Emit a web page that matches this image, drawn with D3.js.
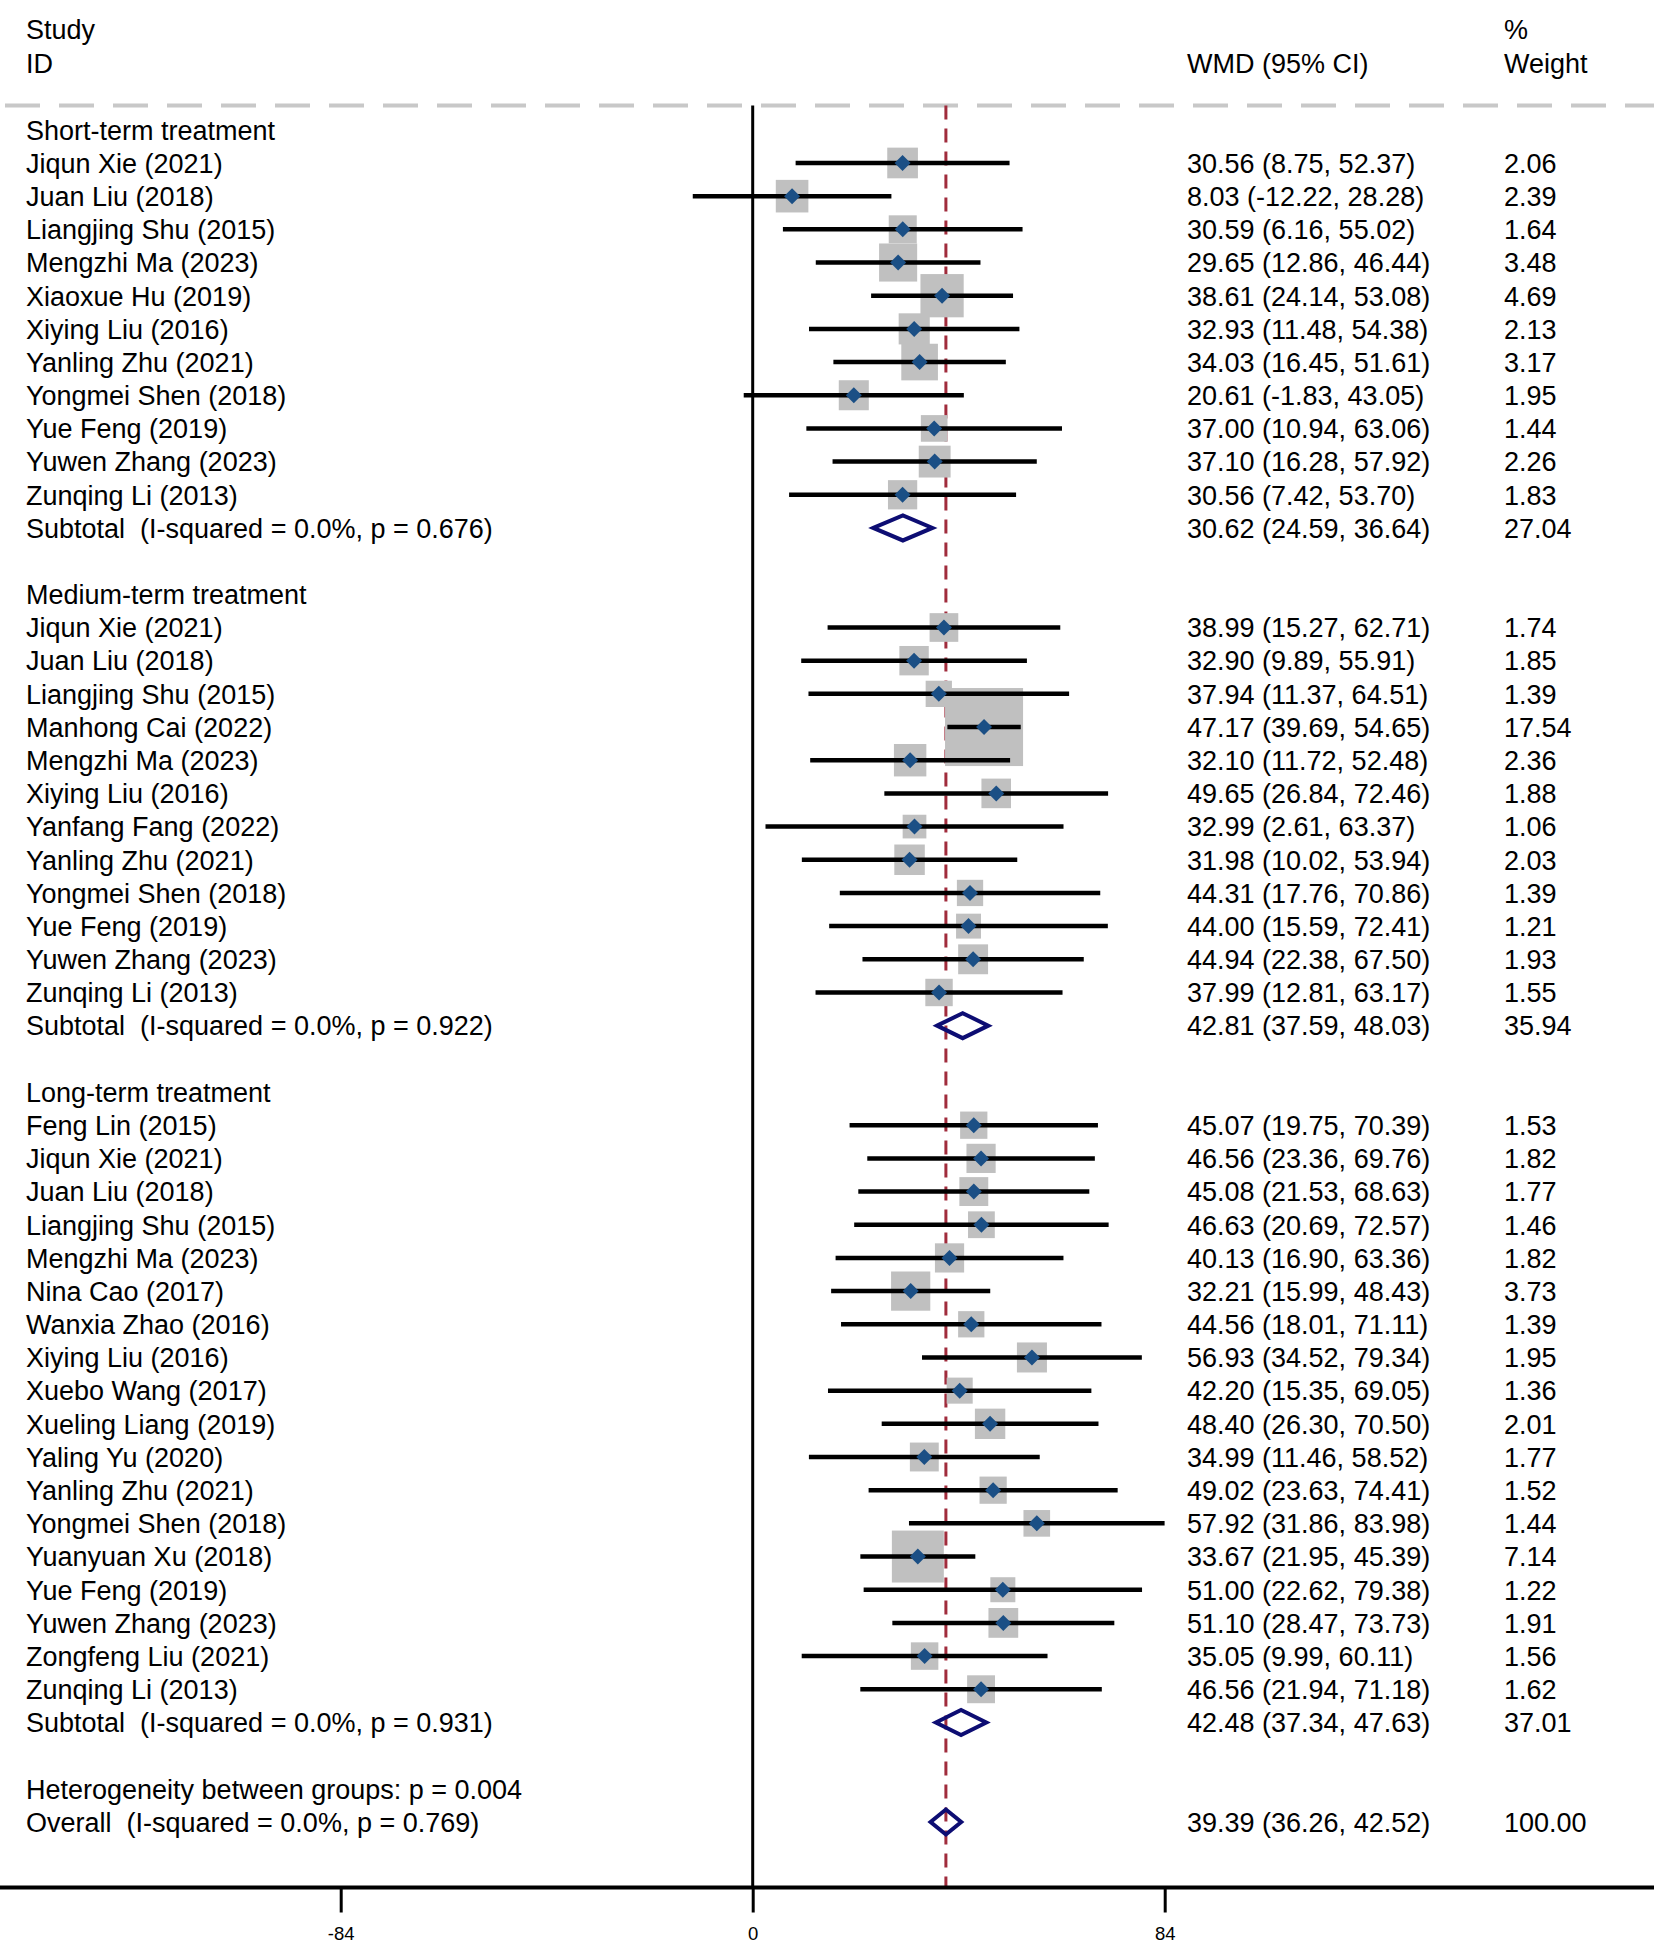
<!DOCTYPE html>
<html lang="en">
<head>
    <meta charset="UTF-8">
    <title>Forest plot - WMD by treatment duration</title>
    <script src="https://d3js.org/d3.v7.min.js"></script>
    <style>
        body {
            margin: 0;
            background: #fff;
        }

        svg text {
            font-family: Arial, "Liberation Sans", sans-serif;
            font-size: 27px;
            fill: #000;
            white-space: pre;
        }

        .tick text {
            font-size: 18.5px;
        }

        .ci {
            stroke: #000;
            stroke-width: 4.5px;
        }

        .box {
            fill: #c0c0c0;
        }

        .point {
            fill: #1b4f85;
        }

        .pooled {
            fill: none;
            stroke: #0d0d73;
            stroke-width: 4px;
            stroke-linejoin: miter;
        }
    </style>
</head>
<body>

<div id="chart"></div>

<script>
    // group labels and summary lines
    const groupTitles = ["Short-term treatment", "Medium-term treatment", "Long-term treatment"];
    const subtotalHet = ["0.676", "0.922", "0.931"];

    // short-term studies
    const shortNames = ["Jiqun Xie (2021)", "Juan Liu (2018)", "Liangjing Shu (2015)", "Mengzhi Ma (2023)",
        "Xiaoxue Hu (2019)", "Xiying Liu (2016)", "Yanling Zhu (2021)", "Yongmei Shen (2018)",
        "Yue Feng (2019)", "Yuwen Zhang (2023)", "Zunqing Li (2013)"];
    const shortEst = [30.56, 8.03, 30.59, 29.65, 38.61, 32.93, 34.03, 20.61, 37.00, 37.10, 30.56];
    const shortLo = [8.75, -12.22, 6.16, 12.86, 24.14, 11.48, 16.45, -1.83, 10.94, 16.28, 7.42];
    const shortHi = [52.37, 28.28, 55.02, 46.44, 53.08, 54.38, 51.61, 43.05, 63.06, 57.92, 53.70];
    const shortWt = [2.06, 2.39, 1.64, 3.48, 4.69, 2.13, 3.17, 1.95, 1.44, 2.26, 1.83];

    // medium-term studies
    const mediumNames = ["Jiqun Xie (2021)", "Juan Liu (2018)", "Liangjing Shu (2015)", "Manhong Cai (2022)",
        "Mengzhi Ma (2023)", "Xiying Liu (2016)", "Yanfang Fang (2022)", "Yanling Zhu (2021)",
        "Yongmei Shen (2018)", "Yue Feng (2019)", "Yuwen Zhang (2023)", "Zunqing Li (2013)"];
    const mediumEst = [38.99, 32.90, 37.94, 47.17, 32.10, 49.65, 32.99, 31.98, 44.31, 44.00, 44.94, 37.99];
    const mediumLo = [15.27, 9.89, 11.37, 39.69, 11.72, 26.84, 2.61, 10.02, 17.76, 15.59, 22.38, 12.81];
    const mediumHi = [62.71, 55.91, 64.51, 54.65, 52.48, 72.46, 63.37, 53.94, 70.86, 72.41, 67.50, 63.17];
    const mediumWt = [1.74, 1.85, 1.39, 17.54, 2.36, 1.88, 1.06, 2.03, 1.39, 1.21, 1.93, 1.55];

    // long-term studies
    const longNames = ["Feng Lin (2015)", "Jiqun Xie (2021)", "Juan Liu (2018)", "Liangjing Shu (2015)",
        "Mengzhi Ma (2023)", "Nina Cao (2017)", "Wanxia Zhao (2016)", "Xiying Liu (2016)",
        "Xuebo Wang (2017)", "Xueling Liang (2019)", "Yaling Yu (2020)", "Yanling Zhu (2021)",
        "Yongmei Shen (2018)", "Yuanyuan Xu (2018)", "Yue Feng (2019)", "Yuwen Zhang (2023)",
        "Zongfeng Liu (2021)", "Zunqing Li (2013)"];
    const longEst = [45.07, 46.56, 45.08, 46.63, 40.13, 32.21, 44.56, 56.93, 42.20, 48.40, 34.99, 49.02,
        57.92, 33.67, 51.00, 51.10, 35.05, 46.56];
    const longLo = [19.75, 23.36, 21.53, 20.69, 16.90, 15.99, 18.01, 34.52, 15.35, 26.30, 11.46, 23.63,
        31.86, 21.95, 22.62, 28.47, 9.99, 21.94];
    const longHi = [70.39, 69.76, 68.63, 72.57, 63.36, 48.43, 71.11, 79.34, 69.05, 70.50, 58.52, 74.41,
        83.98, 45.39, 79.38, 73.73, 60.11, 71.18];
    const longWt = [1.53, 1.82, 1.77, 1.46, 1.82, 3.73, 1.39, 1.95, 1.36, 2.01, 1.77, 1.52,
        1.44, 7.14, 1.22, 1.91, 1.56, 1.62];

    // pooled estimates
    const subEst = [30.62, 42.81, 42.48];
    const subLo = [24.59, 37.59, 37.34];
    const subHi = [36.64, 48.03, 47.63];
    const subWt = [27.04, 35.94, 37.01];

    const overall = {est: 39.39, lo: 36.26, hi: 42.52, wt: 100.00, het: "0.769"};
    const betweenP = "0.004";

    const xTicks = [-84, 0, 84];

    const width = 1654;
    const height = 1945;

    // plain hyphen for negatives, as in the original table
    const fmt = v => v.toFixed(2);

    // build the row list
    const groups = [
        {names: shortNames, est: shortEst, lo: shortLo, hi: shortHi, wt: shortWt},
        {names: mediumNames, est: mediumEst, lo: mediumLo, hi: mediumHi, wt: mediumWt},
        {names: longNames, est: longEst, lo: longLo, hi: longHi, wt: longWt}
    ];

    const rows = [];
    let r = 0;
    groups.forEach((g, gi) => {
        rows.push({row: r++, type: "title", label: groupTitles[gi]});
        g.names.forEach((n, i) => {
            rows.push({row: r++, type: "study", label: n, est: g.est[i], lo: g.lo[i], hi: g.hi[i], wt: g.wt[i]});
        });
        rows.push({row: r++, type: "pooled",
            label: `Subtotal  (I-squared = 0.0%, p = ${subtotalHet[gi]})`,
            est: subEst[gi], lo: subLo[gi], hi: subHi[gi], wt: subWt[gi]});
        r++; // blank line
    });
    rows.push({row: r++, type: "title", label: `Heterogeneity between groups: p = ${betweenP}`});
    rows.push({row: r, type: "pooled", label: `Overall  (I-squared = 0.0%, p = ${overall.het})`,
        est: overall.est, lo: overall.lo, hi: overall.hi, wt: overall.wt});
    const lastRow = r;

    const x = d3.scaleLinear().domain([-84, 84]).range([340.7, 1164.7]);
    const y = d3.scaleLinear().domain([0, lastRow]).range([129.8, 129.8 + 33.18 * lastRow]);

    const lineTop = 105.5;
    const axisY = 1887.5;

    const svg = d3.select("#chart").append("svg")
        .attr("width", width)
        .attr("height", height);

    // header
    const header = svg.append("g");
    header.append("text").attr("x", 26).attr("y", 39).text("Study");
    header.append("text").attr("x", 26).attr("y", 73).text("ID");
    header.append("text").attr("x", 1187).attr("y", 73).text("WMD (95% CI)");
    header.append("text").attr("x", 1504).attr("y", 39).text("%");
    header.append("text").attr("x", 1504).attr("y", 73).text("Weight");

    svg.append("line")
        .attr("x1", 5).attr("x2", width)
        .attr("y1", lineTop).attr("y2", lineTop)
        .attr("stroke", "#c8c8c8")
        .attr("stroke-width", 4)
        .attr("stroke-dasharray", "35 19");

    // no-effect line
    svg.append("line")
        .attr("x1", x(0)).attr("x2", x(0))
        .attr("y1", lineTop).attr("y2", axisY)
        .attr("stroke", "#000")
        .attr("stroke-width", 3);

    // overall effect line
    svg.append("line")
        .attr("x1", x(overall.est)).attr("x2", x(overall.est))
        .attr("y1", lineTop).attr("y2", axisY)
        .attr("stroke", "#a02c3c")
        .attr("stroke-width", 3)
        .attr("stroke-dasharray", "14 9");

    const studies = rows.filter(d => d.type === "study");
    const pooled = rows.filter(d => d.type === "pooled");
    const boxSide = d => 6 + 17.2 * Math.sqrt(d.wt);

    svg.append("g")
        .selectAll("rect")
        .data(studies)
        .join("rect")
        .attr("class", "box")
        .attr("x", d => x(d.est) - boxSide(d) / 2)
        .attr("y", d => y(d.row) - boxSide(d) / 2)
        .attr("width", boxSide)
        .attr("height", boxSide);

    svg.append("g")
        .selectAll("line")
        .data(studies)
        .join("line")
        .attr("class", "ci")
        .attr("x1", d => x(d.lo))
        .attr("x2", d => x(d.hi))
        .attr("y1", d => y(d.row))
        .attr("y2", d => y(d.row));

    svg.append("g")
        .selectAll("path")
        .data(studies)
        .join("path")
        .attr("class", "point")
        .attr("d", d => {
            const cx = x(d.est), cy = y(d.row), h = 8;
            return `M${cx - h},${cy}L${cx},${cy - h}L${cx + h},${cy}L${cx},${cy + h}Z`;
        });

    svg.append("g")
        .selectAll("path")
        .data(pooled)
        .join("path")
        .attr("class", "pooled")
        .attr("d", d => {
            const cy = y(d.row), h = 12.5;
            return `M${x(d.lo)},${cy}L${x(d.est)},${cy - h}L${x(d.hi)},${cy}L${x(d.est)},${cy + h}Z`;
        });

    // text columns
    const txt = svg.append("g");
    txt.selectAll(".label")
        .data(rows)
        .join("text")
        .attr("class", "label")
        .attr("x", 26)
        .attr("y", d => y(d.row) + 9.8)
        .text(d => d.label);

    const valued = rows.filter(d => d.type !== "title");
    txt.selectAll(".wmd")
        .data(valued)
        .join("text")
        .attr("class", "wmd")
        .attr("x", 1187)
        .attr("y", d => y(d.row) + 9.8)
        .text(d => `${fmt(d.est)} (${fmt(d.lo)}, ${fmt(d.hi)})`);

    txt.selectAll(".wt")
        .data(valued)
        .join("text")
        .attr("class", "wt")
        .attr("x", 1504)
        .attr("y", d => y(d.row) + 9.8)
        .text(d => fmt(d.wt));

    // bottom axis
    svg.append("line")
        .attr("x1", 0).attr("x2", width)
        .attr("y1", axisY).attr("y2", axisY)
        .attr("stroke", "#000")
        .attr("stroke-width", 4);

    const axis = svg.append("g")
        .attr("transform", `translate(0,${axisY})`)
        .call(d3.axisBottom(x).tickValues(xTicks).tickFormat(d => String(d)).tickSize(25).tickPadding(14));
    axis.select(".domain").remove();
    axis.selectAll(".tick line").attr("stroke", "#000").attr("stroke-width", 3);
    axis.selectAll(".tick text").attr("fill", "#000");
</script>

</body>
</html>
